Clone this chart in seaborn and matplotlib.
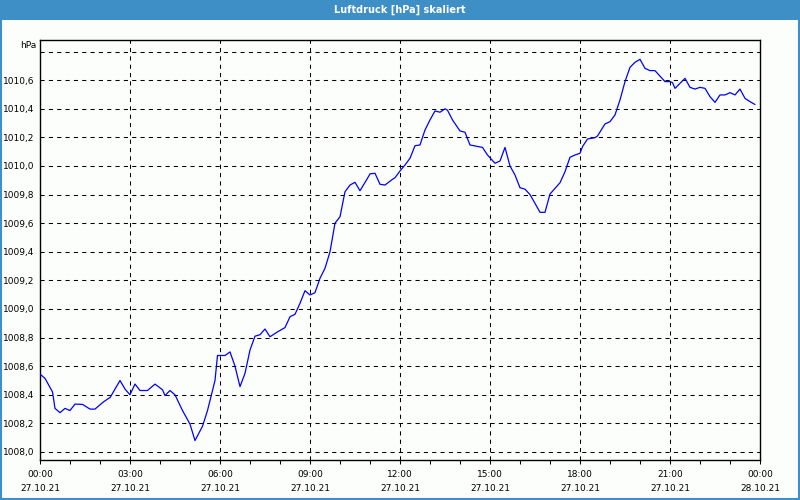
import matplotlib
matplotlib.use("Agg")
import matplotlib.pyplot as plt
import seaborn as sns
import pandas as pd
import numpy as np
from matplotlib.patches import Rectangle

# minutes since 27.10.21 00:00
minutes = [0, 10, 25, 30, 40, 50, 60, 70, 85, 100, 110, 125, 135, 140, 155, 160, 170, 180,
           190, 200, 215, 230, 245, 250, 260, 270, 285, 300, 310, 325, 335, 350, 355, 370,
           380, 390, 400, 410, 420, 430, 440, 450, 460, 475, 490, 500, 510, 520, 530, 540,
           550, 560, 570, 580, 590, 600, 610, 620, 630, 640, 655, 660, 670, 680, 690, 705,
           710, 720, 730, 740, 750, 760, 770, 780, 790, 800, 810, 815, 825, 840, 850, 860,
           870, 885, 895, 910, 920, 930, 940, 950, 960, 970, 980, 990, 1000, 1010, 1020,
           1030, 1040, 1050, 1060, 1070, 1080, 1085, 1095, 1110, 1115, 1130, 1140, 1150,
           1160, 1170, 1180, 1190, 1200, 1210, 1220, 1230, 1240, 1250, 1260, 1265, 1270,
           1280, 1290, 1300, 1310, 1320, 1330, 1340, 1350, 1360, 1370, 1380, 1390, 1400,
           1410, 1420, 1430]
pressure = [1008.545, 1008.515, 1008.42, 1008.305, 1008.275, 1008.305, 1008.29, 1008.335,
            1008.333, 1008.30, 1008.30, 1008.345, 1008.37, 1008.38, 1008.47, 1008.50,
            1008.44, 1008.40, 1008.475, 1008.43, 1008.43, 1008.475, 1008.435, 1008.395,
            1008.43, 1008.40, 1008.29, 1008.195, 1008.08, 1008.18, 1008.29, 1008.50,
            1008.675, 1008.675, 1008.70, 1008.60, 1008.457, 1008.55, 1008.713, 1008.81,
            1008.82, 1008.86, 1008.806, 1008.84, 1008.87, 1008.946, 1008.963, 1009.04,
            1009.128, 1009.098, 1009.114, 1009.215, 1009.285, 1009.40, 1009.60, 1009.645,
            1009.82, 1009.867, 1009.886, 1009.827, 1009.914, 1009.945, 1009.949, 1009.872,
            1009.867, 1009.907, 1009.918, 1009.965, 1010.007, 1010.054, 1010.142, 1010.147,
            1010.252, 1010.322, 1010.385, 1010.376, 1010.40, 1010.39, 1010.322, 1010.245,
            1010.236, 1010.147, 1010.14, 1010.13, 1010.077, 1010.019, 1010.035, 1010.13,
            1010.0, 1009.937, 1009.848, 1009.838, 1009.80, 1009.739, 1009.676, 1009.676,
            1009.804, 1009.844, 1009.883, 1009.96, 1010.061, 1010.077, 1010.089, 1010.135,
            1010.189, 1010.198, 1010.21, 1010.294, 1010.31, 1010.357, 1010.462, 1010.59,
            1010.69, 1010.725, 1010.746, 1010.683, 1010.667, 1010.667, 1010.628, 1010.59,
            1010.59, 1010.583, 1010.543, 1010.578, 1010.613, 1010.55, 1010.538, 1010.55,
            1010.543, 1010.485, 1010.445, 1010.497, 1010.497, 1010.513, 1010.497, 1010.538,
            1010.473, 1010.45, 1010.43]

x_tick_hours = [0, 3, 6, 9, 12, 15, 18, 21, 24]
x_tick_labels = ["00:00\n27.10.21", "03:00\n27.10.21", "06:00\n27.10.21", "09:00\n27.10.21",
                 "12:00\n27.10.21", "15:00\n27.10.21", "18:00\n27.10.21", "21:00\n27.10.21",
                 "00:00\n28.10.21"]
y_ticks = [1008.0, 1008.2, 1008.4, 1008.6, 1008.8, 1009.0, 1009.2, 1009.4, 1009.6,
           1009.8, 1010.0, 1010.2, 1010.4, 1010.6]
y_grid_extra = [1010.8]
title = "Luftdruck [hPa] skaliert"
unit = "hPa"

sns.set_style("white")
plt.rcParams['font.family'] = ['DejaVu Sans']

bg = '#fcfefc'
blue = '#3d8fc6'
fig = plt.figure(figsize=(8, 5), dpi=100, facecolor=bg)
ax = fig.add_axes([40/800, 40/500, 720/800, 420/500])
ax.set_facecolor(bg)

df = pd.DataFrame({"hour": np.array(minutes) / 60.0, "hPa": pressure})

# grid
for h in x_tick_hours[1:-1]:
    ax.axvline(h, color='black', lw=0.75, ls=(0, (4, 4)), zorder=1)
for v in y_ticks + y_grid_extra:
    ax.axhline(v, color='black', lw=0.75, ls=(0, (4, 4)), zorder=1)

sns.lineplot(data=df, x="hour", y="hPa", ax=ax, color='#0000ff', lw=0.9, zorder=3)

ax.set_xlim(0, 24)
ax.set_ylim(1008.0 - 8/143, 1008.0 + 412/143)
ax.set_xticks(x_tick_hours)
ax.set_xticklabels(x_tick_labels, linespacing=1.75)
ax.set_xticks(np.arange(0, 25, 1), minor=True)
ax.set_yticks(y_ticks)
ax.set_yticklabels([f"{v:.1f}".replace('.', ',') for v in y_ticks])
ax.tick_params(axis='x', which='both', direction='out', length=3, width=0.75, color='black',
               labelsize=6.5, pad=4, bottom=True, labelcolor='black')
ax.tick_params(axis='y', length=0, labelsize=6.5, pad=4, labelcolor='black')
ax.set_xlabel("")
ax.set_ylabel("")
for s in ax.spines.values():
    s.set_color('black')
    s.set_linewidth(1.0)
    s.set_visible(True)

fig.text(36/800, 1 - 45/500, unit, ha='right', va='center', fontsize=6.5, color='black')

# title bar
fig.patches.append(Rectangle((0, 1 - 20/500), 1, 20/500, transform=fig.transFigure,
                             facecolor=blue, edgecolor='none', zorder=0))
fig.text(0.5, 1 - 10/500, title, ha='center', va='center', color='white',
         fontsize=7, fontweight='bold')
# border
fig.patches.append(Rectangle((0.001, 0.002), 0.998, 0.996, transform=fig.transFigure,
                             facecolor='none', edgecolor=blue, lw=1.5, zorder=5))

fig.savefig("out.png", dpi=100, facecolor=bg)
